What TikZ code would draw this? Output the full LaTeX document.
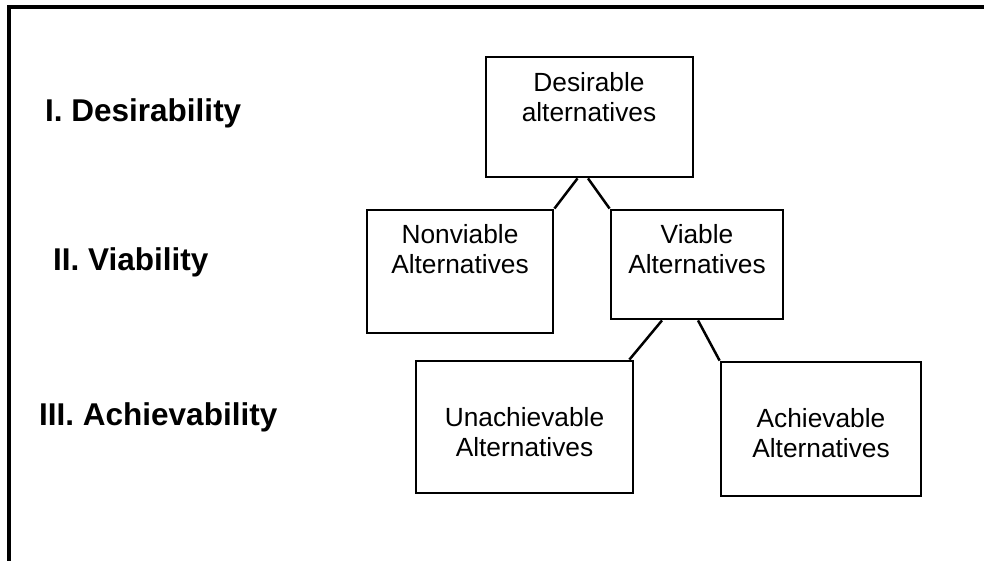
\documentclass[tikz,border=0pt]{standalone}
\usepackage{fontspec}
\setmainfont{Liberation Sans}
\usetikzlibrary{calc}
\begin{document}
\begin{tikzpicture}[x=1pt,y=-1pt,
  box/.style={draw,line width=2.8pt,inner sep=0pt,rectangle},
  boxtext/.style={align=center,font=\fontsize{26.3}{30}\selectfont,inner sep=0pt},
  level/.style={anchor=base west,font=\fontsize{31.5}{35}\selectfont\bfseries,inner sep=0pt},
  conn/.style={line width=2.5pt}]
\useasboundingbox (0,0) rectangle (984,561);
% frame
\coordinate (fbl) at (9,563);
\coordinate (ftl) at (9,7);
\coordinate (ftr) at (986,7);
\draw[line width=4pt] (fbl) -- (ftl) -- (ftr);
% level labels
\node[level] (l1) at (45,122) {I. Desirability};
\node[level] (l2) at (53,270) {II. Viability};
\node[level] (l3) at (39,425) {III. Achievability};
% boxes
\node[box,minimum width=207pt,minimum height=120pt] (des) at (589.5,117) {};
\node[box,minimum width=186pt,minimum height=123pt] (nonv) at (460,271.5) {};
\node[box,minimum width=172pt,minimum height=109pt] (via) at (697,264.5) {};
\node[box,minimum width=217pt,minimum height=132pt] (unach) at (524.5,427) {};
\node[box,minimum width=200pt,minimum height=134pt] (ach) at (821,429) {};
% texts
\node[boxtext] (destxt) at (589,97) {Desirable\\alternatives};
\node[boxtext] (nonvtxt) at (460,249) {Nonviable\\Alternatives};
\node[boxtext] (viatxt) at (697,249) {Viable\\Alternatives};
\node[boxtext] (unachtxt) at (524.5,432) {Unachievable\\Alternatives};
\node[boxtext] (achtxt) at (821,433) {Achievable\\Alternatives};
% connectors
\draw[conn] ($(des.south)+(-12,0)$) -- (nonv.north east);
\draw[conn] ($(des.south)+(-1.5,0)$) -- (via.north west);
\draw[conn] ($(via.south)+(-35,0)$) -- ($(unach.north east)+(-5,0)$);
\draw[conn] ($(via.south)+(1,0)$) -- (ach.north west);
\end{tikzpicture}
\end{document}
